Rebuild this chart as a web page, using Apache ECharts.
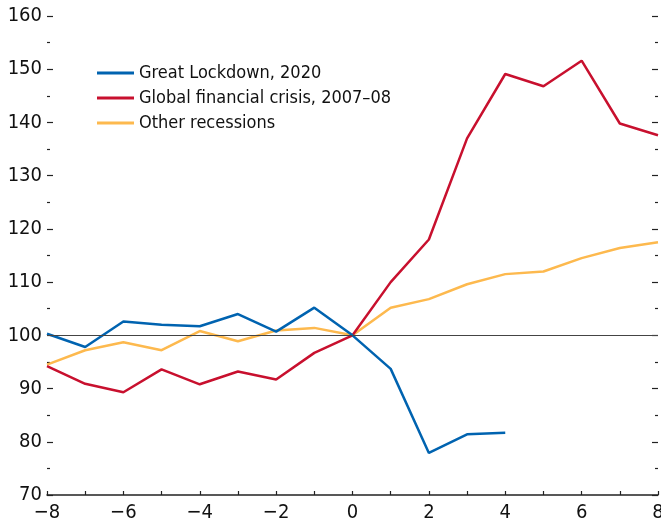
<!DOCTYPE html>
<html><head><meta charset="utf-8">
<script src="https://cdn.jsdelivr.net/npm/echarts@6/dist/echarts.min.js"></script>
<style>html,body{margin:0;padding:0;background:#fff}#c{width:661px;height:523px}</style>
</head><body><div id="c"></div>
<script>
const xValues = [-8,-7,-6,-5,-4,-3,-2,-1,0,1,2,3,4,5,6,7,8];
const lockdown = [100.3,97.8,102.6,102.0,101.7,104.0,100.7,105.2,100,93.7,77.9,81.4,81.7];
const gfc = [94.2,90.9,89.3,93.6,90.8,93.2,91.7,96.7,100,110.0,118.0,137.0,149.1,146.8,151.6,139.8,137.6];
const other = [94.5,97.2,98.7,97.2,100.8,98.9,100.9,101.4,100,105.2,106.8,109.6,111.5,112.0,114.5,116.4,117.5];
const seriesNames = ['Great Lockdown, 2020','Global financial crisis, 2007–08','Other recessions'];
const colors = ['#0063b0','#c8102e','#fdb94e'];
const FONT = '"DejaVu Sans Condensed", "Liberation Sans", Arial, sans-serif';
const pair = arr => arr.map((v,i)=>[xValues[i], v]);
const chart = echarts.init(document.getElementById('c'));
const minus = v => (v<0 ? '\u2212'+Math.abs(v) : String(v));
const yCommon = {
  type:'value', min:70, max:160, interval:10,
  axisLine:{show:false,onZero:false},
  axisTick:{show:true,inside:true,length:6,lineStyle:{color:'#222',width:1.2}},
  minorTick:{show:true,splitNumber:2,length:3,lineStyle:{color:'#222',width:1.2}},
  splitLine:{show:false}
};
chart.setOption({
  animation:false,
  grid:{left:47,right:3,top:16,bottom:28,outerBoundsMode:'none',containLabel:false},
  legend:{
    orient:'vertical', left:97, top:64, padding:0, itemWidth:37, itemHeight:3, itemGap:7,
    icon:'rect',
    textStyle:{fontFamily:FONT,fontSize:18,color:'#111',padding:[0,0,0,0]},
    data:seriesNames
  },
  xAxis:{
    type:'value', min:-8, max:8, interval:1,
    axisLine:{show:true,lineStyle:{color:'#222',width:1.5}},
    axisTick:{show:true,inside:true,length:4,lineStyle:{color:'#222',width:1.2}},
    splitLine:{show:false},
    axisLabel:{fontFamily:FONT,fontSize:20,color:'#111',margin:8,
      formatter:v=> (v%2===0 ? minus(v) : '')}
  },
  yAxis:[
    Object.assign({}, yCommon, {position:'left',
      axisLabel:{fontFamily:FONT,fontSize:20,color:'#111',margin:5}}),
    Object.assign({}, yCommon, {position:'right', axisLabel:{show:false}})
  ],
  series:[
    {name:seriesNames[2],type:'line',data:pair(other),color:colors[2],symbol:'none',
     lineStyle:{width:2.5,color:colors[2]},z:2,
     markLine:{silent:true,symbol:'none',label:{show:false},lineStyle:{color:'#444',width:1,type:'solid'},data:[{yAxis:100}]}},
    {name:seriesNames[1],type:'line',data:pair(gfc),color:colors[1],symbol:'none',lineStyle:{width:2.5,color:colors[1]},z:3},
    {name:seriesNames[0],type:'line',data:pair(lockdown),color:colors[0],symbol:'none',lineStyle:{width:2.5,color:colors[0]},z:4}
  ]
});
</script></body></html>
